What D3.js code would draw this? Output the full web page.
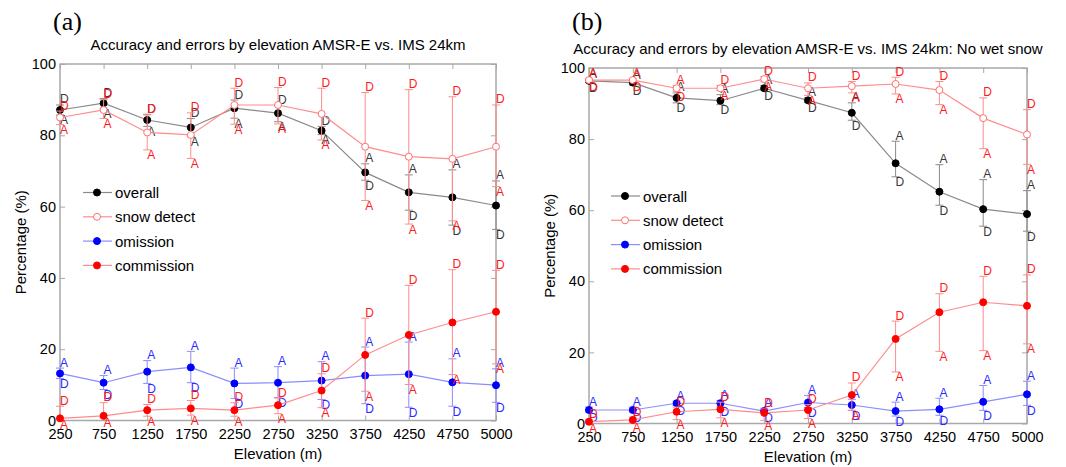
<!DOCTYPE html>
<html>
<head>
<meta charset="utf-8">
<script src="https://cdn.jsdelivr.net/npm/d3@7"></script>
<style>
  body { margin: 0; background: #fff; }
  text { font-family: "Liberation Sans", Arial, sans-serif; }
</style>
</head>
<body>
<div id="chart"></div>
<script>
const elevations = ['250', '750', '1250', '1750', '2250', '2750', '3250', '3750', '4250', '4750', '5000']
const yTicks = [0, 20, 40, 60, 80, 100]
const seriesNames = ['overall', 'snow detect', 'omission', 'commission']

// panel (a): mean, ascending (A) and descending (D) values
const aOverall = [87.1, 89.0, 84.3, 82.2, 87.6, 86.2, 81.3, 69.6, 64.0, 62.6, 60.3]
const aOverallA = [85.7, 87.6, 82.5, 79.6, 84.8, 83.8, 80.2, 72.0, 68.9, 70.3, 67.2]
const aOverallD = [88.5, 90.3, 85.9, 84.7, 89.9, 88.3, 82.5, 67.4, 59.0, 54.8, 53.6]
const aSnow = [85.0, 87.1, 80.8, 80.1, 88.5, 88.5, 86.0, 76.8, 74.0, 73.4, 76.8]
const aSnowA = [83.0, 84.7, 75.9, 73.5, 83.1, 83.2, 78.7, 61.7, 55.1, 56.0, 65.6]
const aSnowD = [86.8, 90.0, 85.7, 86.3, 93.2, 93.4, 93.2, 92.0, 92.8, 90.8, 88.5]
const aOmission = [13.2, 10.6, 13.7, 14.9, 10.4, 10.6, 11.2, 12.6, 13.0, 10.7, 9.9]
const aOmissionA = [14.7, 12.6, 16.8, 19.4, 14.7, 15.1, 16.5, 20.6, 22.0, 17.3, 14.5]
const aOmissionD = [11.8, 8.7, 10.4, 10.6, 6.2, 6.4, 5.9, 4.7, 3.7, 4.0, 5.1]
const aCommission = [0.6, 1.3, 2.9, 3.4, 2.9, 4.3, 8.4, 18.4, 24.0, 27.5, 30.5]
const aCommissionA = [0.2, 0.8, 1.2, 1.5, 1.2, 1.9, 3.6, 8.2, 10.1, 12.9, 15.9]
const aCommissionD = [4.0, 5.0, 4.5, 5.6, 5.0, 6.3, 13.1, 28.7, 37.9, 42.3, 42.1]

// panel (b): no wet snow
const bOverall = [96.4, 95.9, 91.6, 90.8, 94.3, 90.9, 87.4, 73.2, 65.2, 60.3, 58.9]
const bOverallA = [96.8, 96.5, 93.0, 92.5, 95.1, 91.6, 90.2, 79.4, 72.8, 68.6, 65.5]
const bOverallD = [96.0, 95.2, 90.2, 89.7, 93.7, 90.3, 85.3, 69.4, 61.4, 55.5, 54.1]
const bSnow = [96.6, 96.6, 94.3, 94.3, 96.9, 94.3, 94.9, 95.5, 93.8, 85.9, 81.3]
const bSnowA = [97.0, 97.0, 95.0, 93.7, 96.1, 92.3, 93.0, 92.7, 89.7, 77.3, 72.9]
const bSnowD = [96.2, 96.2, 93.5, 95.1, 97.6, 95.8, 96.2, 97.4, 96.2, 91.6, 88.3]
const bOmission = [3.8, 3.8, 5.7, 5.7, 3.5, 5.9, 5.2, 3.5, 4.0, 6.1, 8.2]
const bOmissionA = [4.6, 4.6, 6.3, 6.5, 4.3, 7.9, 6.8, 6.0, 7.1, 10.7, 11.9]
const bOmissionD = [3.2, 3.2, 5.1, 4.7, 3.0, 4.5, 3.7, 2.1, 2.3, 3.7, 5.1]
const bCommission = [0.5, 1.0, 3.3, 4.0, 3.0, 3.8, 8.0, 23.8, 31.3, 34.1, 33.1]
const bCommissionA = [0.1, 0.4, 1.1, 1.6, 0.9, 1.4, 3.7, 14.5, 20.3, 20.5, 22.4]
const bCommissionD = [1.0, 1.8, 4.6, 6.0, 4.1, 5.3, 11.4, 28.8, 36.5, 41.4, 41.8]

const styles = [
    { line: '#8a8a8a', marker: '#000', fill: '#000', letter: '#383838' },
    { line: '#ff8c8c', marker: '#ff7070', fill: '#fff', letter: '#ff1a1a' },
    { line: '#8c8cff', marker: '#0000ff', fill: '#0000ff', letter: '#2a2aff' },
    { line: '#ff8c8c', marker: '#ff0000', fill: '#ff0000', letter: '#ff1a1a' },
]

const svg = d3.select('#chart')
    .append('svg')
    .attr('width', 1066)
    .attr('height', 467)

function drawPanel(p) {
    const x = d3.scalePoint()
        .domain(elevations)
        .range([p.left, p.right])
    const y = d3.scaleLinear()
        .domain([0, 100])
        .range([p.bottom, p.top])

    const g = svg.append('g')

    // frame with inward ticks
    g.append('rect')
        .attr('x', p.left).attr('y', p.top)
        .attr('width', p.right - p.left).attr('height', p.bottom - p.top)
        .attr('fill', 'none').attr('stroke', '#a8a8a8').attr('stroke-width', 1.5)

    const axes = [
        [d3.axisLeft(y).tickValues(yTicks), `translate(${p.left},0)`, true],
        [d3.axisRight(y).tickValues(yTicks), `translate(${p.right},0)`, false],
        [d3.axisBottom(x), `translate(0,${p.bottom})`, true],
        [d3.axisTop(x), `translate(0,${p.top})`, false],
    ]
    axes.forEach(([axis, tr, labels], i) => {
        const ag = g.append('g')
            .attr('transform', tr)
            .call(axis.tickSize(-5).tickSizeOuter(0).tickPadding(i == 2 ? 8 : 4))
        ag.select('.domain').remove()
        ag.selectAll('line').attr('stroke', '#a8a8a8')
        ag.selectAll('text')
            .attr('fill', labels ? '#000' : 'none')
            .style('font-family', '"Liberation Sans", Arial, sans-serif')
            .style('font-size', '14.5px')
    })

    p.series.forEach((s, k) => {
        const st = styles[k]
        const sg = g.append('g')
        // error bars
        elevations.forEach((e, i) => {
            const lo = Math.min(s.asc[i], s.desc[i])
            const hi = Math.max(s.asc[i], s.desc[i])
            sg.append('line')
                .attr('x1', x(e)).attr('x2', x(e))
                .attr('y1', y(lo)).attr('y2', y(hi))
                .attr('stroke', st.line).attr('stroke-width', 1)
            ;[s.asc[i], s.desc[i]].forEach(v => {
                sg.append('line')
                    .attr('x1', x(e) - 4).attr('x2', x(e) + 4)
                    .attr('y1', y(v)).attr('y2', y(v))
                    .attr('stroke', st.line).attr('stroke-width', 1)
            })
        })
        sg.append('path')
            .datum(s.mean)
            .attr('fill', 'none')
            .attr('stroke', st.line)
            .attr('stroke-width', 1.2)
            .attr('d', d3.line().x((d, i) => x(elevations[i])).y(d => y(d)))
        sg.selectAll('circle')
            .data(s.mean)
            .join('circle')
            .attr('cx', (d, i) => x(elevations[i]))
            .attr('cy', d => y(d))
            .attr('r', 3.5)
            .attr('fill', st.fill)
            .attr('stroke', st.marker)
            .attr('stroke-width', 1)
        // A / D letters just outside the caps
        elevations.forEach((e, i) => {
            [['A', s.asc[i]], ['D', s.desc[i]]].forEach(([lab, v]) => {
                const up = v > s.mean[i] || (v == s.mean[i] && lab == 'A')
                sg.append('text')
                    .attr('x', x(e))
                    .attr('y', y(v) + (up ? -5.5 : 5.5))
                    .attr('dominant-baseline', 'central')
                    .attr('fill', st.letter)
                    .style('font-size', '12px')
                    .text(lab)
            })
        })
    })

    // legend
    seriesNames.forEach((name, k) => {
        const st = styles[k]
        const ly = p.legendY + k * 24.3
        g.append('line')
            .attr('x1', p.legendX).attr('x2', p.legendX + 29)
            .attr('y1', ly).attr('y2', ly)
            .attr('stroke', st.line).attr('stroke-width', 1.2)
        g.append('circle')
            .attr('cx', p.legendX + 14).attr('cy', ly).attr('r', 3.5)
            .attr('fill', st.fill).attr('stroke', st.marker)
        g.append('text')
            .attr('x', p.legendX + 32).attr('y', ly)
            .attr('dominant-baseline', 'central')
            .style('font-size', '15px')
            .text(name)
    })

    const cx = (p.left + p.right) / 2
    g.append('text')
        .attr('x', cx).attr('y', p.top - 14)
        .attr('text-anchor', 'middle')
        .style('font-size', '15px')
        .text(p.title)
    g.append('text')
        .attr('x', cx).attr('y', p.bottom + 33)
        .attr('text-anchor', 'middle')
        .attr('dominant-baseline', 'central')
        .style('font-size', '15px')
        .text('Elevation (m)')
    g.append('text')
        .attr('transform', `translate(${p.left - 40},${(p.top + p.bottom) / 2}) rotate(-90)`)
        .attr('text-anchor', 'middle')
        .attr('dominant-baseline', 'central')
        .style('font-size', '15px')
        .text('Percentage (%)')
    g.append('text')
        .attr('x', p.tagX).attr('y', 30)
        .style('font-family', '"Liberation Serif", "Times New Roman", serif')
        .style('font-size', '26px')
        .text(p.tag)
}

drawPanel({
    left: 60, right: 496, top: 64, bottom: 420.5,
    legendX: 83, legendY: 192.5, tagX: 53, tag: '(a)',
    title: 'Accuracy and errors by elevation AMSR-E vs. IMS 24km',
    series: [
        { mean: aOverall, asc: aOverallA, desc: aOverallD },
        { mean: aSnow, asc: aSnowA, desc: aSnowD },
        { mean: aOmission, asc: aOmissionA, desc: aOmissionD },
        { mean: aCommission, asc: aCommissionA, desc: aCommissionD },
    ],
})

drawPanel({
    left: 589, right: 1027, top: 68, bottom: 423.5,
    legendX: 611, legendY: 196, tagX: 572, tag: '(b)',
    title: 'Accuracy and errors by elevation AMSR-E vs. IMS 24km: No wet snow',
    series: [
        { mean: bOverall, asc: bOverallA, desc: bOverallD },
        { mean: bSnow, asc: bSnowA, desc: bSnowD },
        { mean: bOmission, asc: bOmissionA, desc: bOmissionD },
        { mean: bCommission, asc: bCommissionA, desc: bCommissionD },
    ],
})
</script>
</body>
</html>
